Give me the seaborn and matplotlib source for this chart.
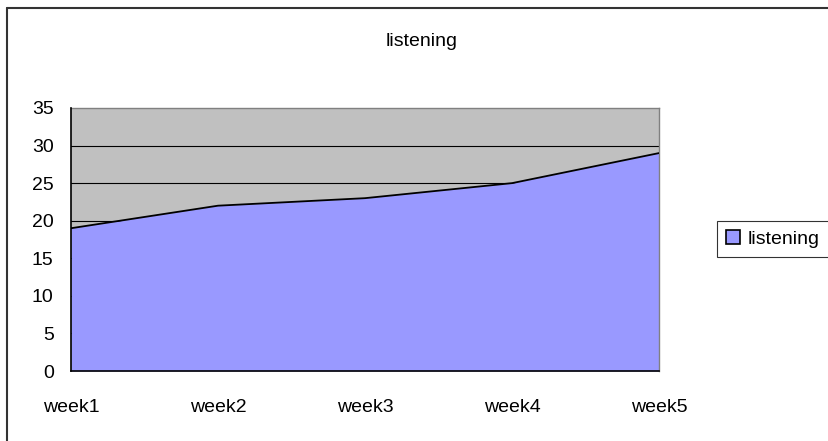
import matplotlib
matplotlib.use("Agg")
import matplotlib.pyplot as plt
import seaborn as sns
import pandas as pd
from matplotlib.patches import Patch
from matplotlib.lines import Line2D

weeks = ["week1", "week2", "week3", "week4", "week5"]
listening = [19, 22, 23, 25, 29]
yticks = [0, 5, 10, 15, 20, 25, 30, 35]

sns.set_style("white")
plt.rcParams['font.family'] = ['Liberation Sans', 'DejaVu Sans']
plt.rcParams['text.color'] = 'black'
plt.rcParams['xtick.color'] = 'black'
plt.rcParams['ytick.color'] = 'black'
plt.rcParams['xtick.labelcolor'] = 'black'
plt.rcParams['ytick.labelcolor'] = 'black'
FS = 14

df = pd.DataFrame({"pos": range(len(weeks)), "week": weeks, "listening": listening})

W, H = 829, 441
fig = plt.figure(figsize=(W / 100, H / 100), dpi=100)
ax = fig.add_axes([71 / W, 1 - 371 / H, (659 - 71) / W, (371 - 108) / H])

ax.set_facecolor("#c0c0c0")
ax.set_xlim(0, len(weeks) - 1)
ax.set_ylim(0, 35)
for y in yticks[1:-1]:
    ax.axhline(y, color="black", lw=0.8, zorder=1)

ax.fill_between(df["pos"], 0, df["listening"], color="#9999ff", zorder=2, lw=0)
sns.lineplot(data=df, x="pos", y="listening", ax=ax, color="black", lw=1.3, zorder=3)

ax.set_xticks(df["pos"])
ax.set_xticklabels(weeks, fontsize=FS, color="black")
ax.set_yticks(yticks)
ax.set_yticklabels([str(v) for v in yticks], fontsize=FS, color="black")
ax.tick_params(axis="x", direction="out", length=5, width=0.8, color="black", pad=15)
ax.tick_params(axis="y", direction="out", length=5.5, width=0.8, color="black", pad=7)
ax.set_xlabel("")
ax.set_ylabel("")

for s in ["left", "bottom"]:
    ax.spines[s].set_color("black")
    ax.spines[s].set_linewidth(1.2)
for s in ["top", "right"]:
    ax.spines[s].set_color("#808080")
    ax.spines[s].set_linewidth(1.0)
ax.spines["left"].set_zorder(4)
ax.spines["bottom"].set_zorder(4)

fig.text(422 / W, 1 - 41 / H, "listening", ha="center", va="center", fontsize=FS, color="black")

# outer chart frame (top and left edges)
fig.add_artist(Line2D([7 / W, 1.0], [1 - 8 / H, 1 - 8 / H], color="#333333", lw=1.5, transform=fig.transFigure))
fig.add_artist(Line2D([7 / W, 7 / W], [0, 1 - 8 / H], color="#333333", lw=1.5, transform=fig.transFigure))

handles = [Patch(facecolor="#9999ff", edgecolor="black", lw=1.2, label="listening")]
leg = fig.legend(handles=handles, loc="center left", bbox_to_anchor=(717 / W, 1 - 239 / H),
                 frameon=True, fancybox=False, fontsize=FS, handlelength=0.75, handleheight=0.75,
                 handletextpad=0.4, borderpad=0.45, borderaxespad=0)
leg.get_frame().set_edgecolor("black")
leg.get_frame().set_linewidth(0.8)
for t in leg.get_texts():
    t.set_color("black")

fig.savefig("out.png", dpi=100)
